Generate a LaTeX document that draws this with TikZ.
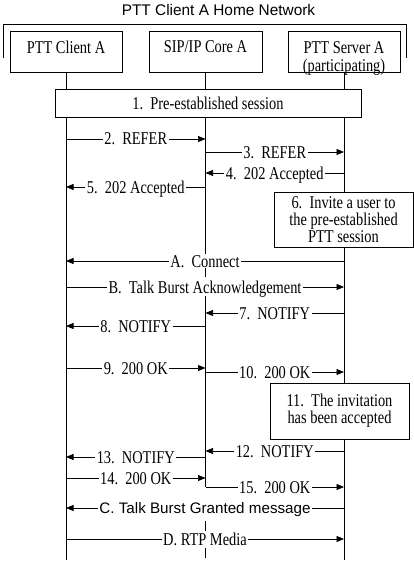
\documentclass[tikz,border=0pt]{standalone}
\usepackage{fontspec}
\setmainfont{Liberation Serif}[FakeStretch=0.8]
\newfontfamily\arialfont{Liberation Sans}
\usetikzlibrary{arrows.meta}
\begin{document}
\begin{tikzpicture}[x=1pt,y=-1pt,line width=0.7pt,
  serif/.style={font=\fontsize{18}{18}\selectfont},
  sans/.style={font=\arialfont\fontsize{15.2}{18}\selectfont},
  entity/.style={draw,minimum width=112pt,minimum height=41pt,inner sep=0pt},
  note/.style={draw,fill=white,minimum width=139pt,minimum height=55pt,inner sep=0pt,align=center,serif},
  msg/.style={-{Triangle[length=7.5pt,width=6pt]}},
  lbl/.style={fill=white,inner xsep=1.5pt,inner ysep=1pt,text height=12pt,text depth=0pt,serif},
  slbl/.style={fill=white,inner xsep=1.5pt,inner ysep=1pt,text height=11pt,text depth=0pt,sans},
  life/.style={line width=0.7pt}]
\useasboundingbox (0,0) rectangle (414,564);
% title and bracket
\node[sans,font=\arialfont\fontsize{15.4}{18}\selectfont] (title) at (218.5,10) {PTT Client A Home Network};
\coordinate (bl) at (3,58);
\coordinate (tl) at (3,24);
\coordinate (tr) at (406,24);
\coordinate (br) at (406,58);
\draw (bl) -- (tl) -- (tr) -- (br);
% entities
\node[entity] (cl) at (66,51.5) {};
\node[entity,minimum width=113pt] (co) at (205.5,51.5) {};
\node[serif] (clt) at (66,47) {PTT Client A};
\node[serif] (cot) at (205.5,47) {SIP/IP Core A};
\node[serif,align=center] (svt) at (344,58.5) {PTT Server A\\[-0.5pt](participating)};
\node[entity] (sv) at (344,51.5) {};
% lifelines
\coordinate (L1a) at (66,72);   \coordinate (L1b) at (66,560);
\coordinate (L3a) at (344,72);  \coordinate (L3b) at (344,560);
\coordinate (L2a) at (205,72);  \coordinate (L2b) at (205,254);
\coordinate (L2c) at (205,268); \coordinate (L2d) at (205,296);
\coordinate (L2e) at (205,487); \coordinate (L2f) at (205,521);
\coordinate (L2g) at (205,560);
\draw[life] (L1a) -- (L1b);
\draw[life] (L3a) -- (L3b);
\draw[life] (L2a) -- (L2b);
\draw[life,dash pattern=on 9pt off 20pt] (L2c) -- (L2d);
\draw[life] (L2d) -- (L2e);
\draw[life,dash pattern=on 10pt off 17pt] (L2f) -- (L2g);
% pre-established session
\node[draw,fill=white,minimum width=306pt,minimum height=28pt,inner sep=0pt,serif] (pre) at (208,103) {1.\ \ Pre-established session};
% messages
\draw[msg] (cl |- 0,139) -- node[lbl]{2.\ \ REFER} (co |- 0,139);
\draw[msg] (co |- 0,152) -- node[lbl]{3.\ \ REFER} (sv |- 0,152);
\draw[msg] (sv |- 0,173) -- node[lbl]{4.\ \ 202 Accepted} (co |- 0,173);
\draw[msg] (co |- 0,187) -- node[lbl]{5.\ \ 202 Accepted} (cl |- 0,187);
\node[note] (n6) at (343.5,219.5) {6.\ \ Invite a user to\\[-1pt]the pre-established\\[-1pt]PTT session};
\draw[msg] (sv |- 0,261) -- node[lbl]{A.\ \ Connect} (cl |- 0,261);
\draw[msg] (cl |- 0,287) -- node[lbl]{B.\ \ Talk Burst Acknowledgement} (sv |- 0,287);
\draw[msg] (sv |- 0,313) -- node[lbl]{7.\ \ NOTIFY} (co |- 0,313);
\draw[msg] (co |- 0,326) -- node[lbl]{8.\ \ NOTIFY} (cl |- 0,326);
\draw[msg] (cl |- 0,368) -- node[lbl]{9.\ \ 200 OK} (co |- 0,368);
\draw[msg] (co |- 0,372) -- node[lbl]{10.\ \ 200 OK} (sv |- 0,372);
\node[note,minimum height=56pt] (n11) at (339.5,411) {11.\ \ The invitation\\[-1pt]has been accepted};
\draw[msg] (sv |- 0,451) -- node[lbl]{12.\ \ NOTIFY} (co |- 0,451);
\draw[msg] (co |- 0,457) -- node[lbl]{13.\ \ NOTIFY} (cl |- 0,457);
\draw[msg] (cl |- 0,478) -- node[lbl]{14.\ \ 200 OK} (co |- 0,478);
\draw[msg] (co |- 0,487) -- node[lbl]{15.\ \ 200 OK} (sv |- 0,487);
\draw[msg] (sv |- 0,508) -- node[slbl]{C. Talk Burst Granted message} (cl |- 0,508);
\draw[msg] (cl |- 0,539) -- node[lbl]{D. RTP Media} (sv |- 0,539);
\end{tikzpicture}
\end{document}
